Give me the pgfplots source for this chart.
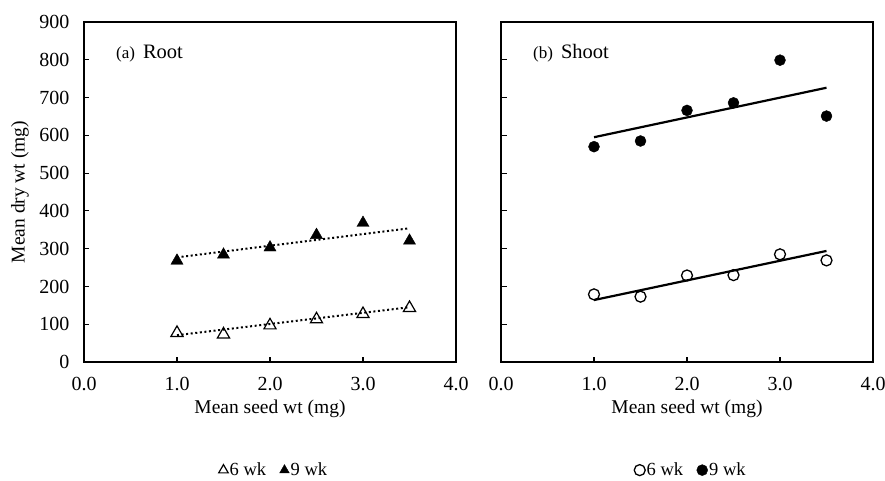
\documentclass[border=0pt]{standalone}
\usepackage{fontspec}
\setmainfont{Liberation Serif}
\usepackage{pgfplots}
\pgfplotsset{compat=1.18}

\newcommand\tickfont{\fontsize{20}{22}\selectfont}
\newcommand\labfont{\fontsize{19.5}{22}\selectfont}
\newcommand\legfont{\fontsize{18.5}{21}\selectfont}

\pgfplotsset{
  panel/.style={
    scale only axis, width=372pt, height=340pt,
    xmin=0, xmax=4, ymin=0, ymax=900,
    xtick={0,1,2,3,4}, ytick={0,100,...,900},
    tick pos=left, tick align=inside, major tick length=5.5pt,
    axis line style={line width=1.2pt},
    tick style={line width=1.2pt, black},
    /pgf/number format/assume math mode=true,
    tick label style={font=\tickfont},
    xticklabel style={yshift=-12pt, /pgf/number format/.cd, fixed, fixed zerofill, precision=1},
    yticklabel style={xshift=-11pt},
    xlabel={Mean seed wt (mg)},
    xlabel style={font=\labfont, at={(axis description cs:0.5,-0.15)}, anchor=base},
    legend columns=2,
    legend style={draw=none, fill=none, font=\legfont, at={(0.51,-0.318)}, anchor=center,
      /tikz/every even column/.append style={column sep=12pt},
      nodes={inner sep=1.5pt}},
    legend image code/.code={\draw[#1, mark size=5.5pt] plot coordinates {(0pt,0pt)};},
  },
  trend/.style={black, line width=2.2pt, forget plot},
}

\begin{document}
\begin{tikzpicture}
\path[use as bounding box] (0,0) rectangle (885pt,480pt);

% (a) Root
\begin{axis}[panel, at={(84pt,118pt)}, anchor=south west,
  ylabel={Mean dry wt (mg)},
  ylabel style={font=\labfont, at={(axis description cs:-0.172,0.5)}, anchor=center},
]
\addplot[only marks, mark=triangle, mark size=7pt, mark options={line width=1.2pt, black}] coordinates {(1.0,77) (1.5,73) (2.0,97) (2.5,113) (3.0,127) (3.5,143)};
\addlegendentry{6 wk}
\addplot[only marks, mark=triangle*, mark size=7pt, mark options={black, fill=black}] coordinates {(1.0,268) (1.5,284) (2.0,303) (2.5,336) (3.0,368) (3.5,321)};
\addlegendentry{9 wk}
\addplot[trend, line width=2pt, dash pattern=on 2pt off 2.6pt] coordinates {(1.0,71) (3.5,145)};
\addplot[trend, line width=2pt, dash pattern=on 2pt off 2.6pt] coordinates {(1.0,277) (3.5,354)};
\node[anchor=base west, inner sep=0pt] at (axis description cs:0.086,0.894)
  {\fontsize{17}{19}\selectfont (a)\hspace{8pt}\fontsize{20.5}{22}\selectfont Root};
\end{axis}

% (b) Shoot
\begin{axis}[panel, at={(501pt,118pt)}, anchor=south west,
  yticklabels={},
]
\addplot[only marks, mark=o, mark size=5.5pt, mark options={line width=1.3pt, black}] coordinates {(1.0,179) (1.5,173) (2.0,229) (2.5,230) (3.0,285) (3.5,269)};
\addlegendentry{6 wk}
\addplot[only marks, mark=*, mark size=5.5pt, mark options={black, fill=black}] coordinates {(1.0,570) (1.5,585) (2.0,666) (2.5,686) (3.0,799) (3.5,651)};
\addlegendentry{9 wk}
\addplot[trend] coordinates {(1.0,164) (3.5,294)};
\addplot[trend] coordinates {(1.0,595) (3.5,726)};
\node[anchor=base west, inner sep=0pt] at (axis description cs:0.086,0.894)
  {\fontsize{17}{19}\selectfont (b)\hspace{8pt}\fontsize{20.5}{22}\selectfont Shoot};
\end{axis}
\end{tikzpicture}
\end{document}
